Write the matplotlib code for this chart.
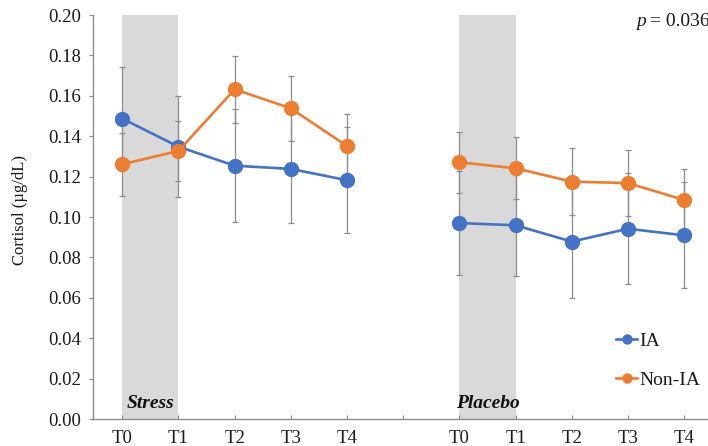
import numpy as np
import matplotlib
matplotlib.use("Agg")
import matplotlib.pyplot as plt
from matplotlib.lines import Line2D

plt.rcParams['font.family'] = ['Liberation Serif', 'DejaVu Serif']

# ---- data ----
timepoints = ["T0", "T1", "T2", "T3", "T4"]
ia_stress = [0.1487, 0.1348, 0.1254, 0.1238, 0.1182]
ia_stress_err = [0.0257, 0.0250, 0.0279, 0.0270, 0.0263]
non_stress = [0.1261, 0.1327, 0.1632, 0.1538, 0.1351]
non_stress_err = [0.0157, 0.0147, 0.0167, 0.0162, 0.0157]
ia_placebo = [0.0970, 0.0959, 0.0878, 0.0942, 0.0909]
ia_placebo_err = [0.0259, 0.0250, 0.0280, 0.0275, 0.0262]
non_placebo = [0.1271, 0.1241, 0.1175, 0.1168, 0.1084]
non_placebo_err = [0.0151, 0.0154, 0.0165, 0.0164, 0.0152]
condition_labels = ["Stress", "Placebo"]
series_labels = ["IA", "Non-IA"]
p_text = "0.036"

BLUE = "#4472C4"
ORANGE = "#ED7D31"
GREY = "#8c8c8c"
TXT = "#1a1a1a"

W, H = 708, 446
fig = plt.figure(figsize=(W / 100, H / 100), dpi=100)
x0, x1 = 92.5, 714.0
ytop, ybot = 15, 419
ax = fig.add_axes([x0 / W, 1 - ybot / H, (x1 - x0) / W, (ybot - ytop) / H])

xs_stress = np.arange(5)
xs_placebo = np.arange(5) + 6

# shaded condition windows (T0 -> T1)
ax.axvspan(xs_stress[0], xs_stress[1], color="#d9d9d9", zorder=0, lw=0)
ax.axvspan(xs_placebo[0], xs_placebo[1], color="#d9d9d9", zorder=0, lw=0)

for xs, ia, iae, no, noe in [(xs_stress, ia_stress, ia_stress_err, non_stress, non_stress_err),
                              (xs_placebo, ia_placebo, ia_placebo_err, non_placebo, non_placebo_err)]:
    ax.errorbar(xs, ia, yerr=iae, fmt="none", ecolor=GREY, elinewidth=0.9, capsize=2.5, capthick=0.9, zorder=2)
    ax.errorbar(xs, no, yerr=noe, fmt="none", ecolor=GREY, elinewidth=0.9, capsize=2.5, capthick=0.9, zorder=2)
    ax.plot(xs, ia, color=BLUE, lw=1.9, marker="o", ms=10, zorder=3)
    ax.plot(xs, no, color=ORANGE, lw=1.9, marker="o", ms=10, zorder=4)

ax.set_xlim(-0.53, 10.53)
ax.set_ylim(0, 0.20)
ax.set_yticks(np.arange(0, 0.201, 0.02))
ax.set_yticklabels([f"{v:.2f}" for v in np.arange(0, 0.201, 0.02)])
ax.set_xticks(list(xs_stress) + [5] + list(xs_placebo))
ax.set_xticklabels(timepoints + [""] + timepoints)

for s in ["top", "right"]:
    ax.spines[s].set_visible(False)
for s in ["left", "bottom"]:
    ax.spines[s].set_color(GREY)
    ax.spines[s].set_linewidth(1.0)

ax.tick_params(axis="y", direction="out", length=3, color=GREY, labelsize=13.5, pad=5, labelcolor=TXT)
ax.tick_params(axis="x", direction="in", length=3, color=GREY, labelsize=13.5, pad=8, labelcolor=TXT)

fig.text(20 / W, 1 - 210 / H, "Cortisol (µg/dL)", rotation=90, ha="center", va="center",
         fontsize=12, color=TXT)

# condition labels
ax.text((xs_stress[0] + xs_stress[1]) / 2, 0.0078, condition_labels[0], ha="center", va="center",
        fontsize=14, fontweight="bold", fontstyle="italic", color="#111111", zorder=5)
ax.text((xs_placebo[0] + xs_placebo[1]) / 2, 0.0078, condition_labels[1], ha="center", va="center",
        fontsize=14, fontweight="bold", fontstyle="italic", color="#111111", zorder=5)

# p-value
fig.text(636 / W, 1 - 22 / H, "p", fontstyle="italic", ha="left", va="center", fontsize=14, color=TXT)
fig.text(650 / W, 1 - 21 / H, "= " + p_text, ha="left", va="center", fontsize=14, color=TXT)

handles = [Line2D([0], [0], color=BLUE, lw=1.9, marker="o", ms=6.5),
           Line2D([0], [0], color=ORANGE, lw=1.9, marker="o", ms=6.5)]
fig.legend(handles, series_labels, loc="center left", bbox_to_anchor=(616 / W, 1 - 360.5 / H),
           frameon=False, fontsize=14, handlelength=1.1, handletextpad=0.1,
           labelspacing=1.1, borderpad=0, borderaxespad=0, labelcolor=TXT)

fig.savefig("out.png", dpi=100)
